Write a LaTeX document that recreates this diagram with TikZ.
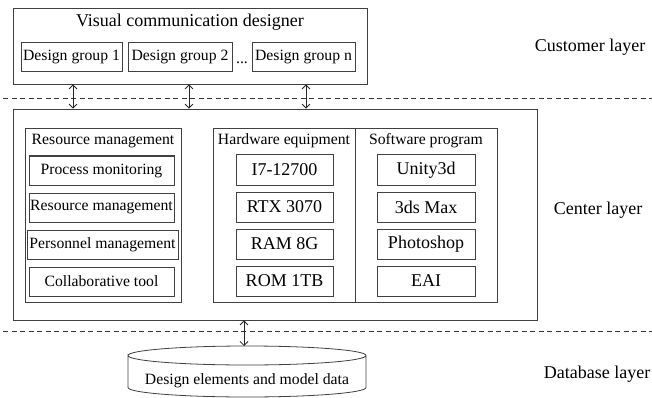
\documentclass[tikz,border=0pt]{standalone}
\usepackage{fontspec}
\setmainfont{Liberation Serif}
\usetikzlibrary{arrows.meta}

\tikzset{
  frame/.style={draw=black!75, line width=0.8pt, inner sep=0pt},
  item/.style={draw=black!75, line width=1pt, inner sep=0pt, minimum height=29pt},
  big/.style={font=\fontsize{18}{20}\selectfont},
  norm/.style={font=\fontsize{15.7}{18}\selectfont},
  link/.style={draw=black!85, line width=0.8pt, {Straight Barb[length=4pt,width=8pt]}-{Straight Barb[length=4pt,width=8pt]}},
  layer/.style={draw=black!80, line width=0.8pt, dash pattern=on 5pt off 3.5pt}
}

\begin{document}
\begin{tikzpicture}[x=1pt,y=-1pt]
\useasboundingbox (0,0) rectangle (652,398);

% customer layer
\node[frame, minimum width=354pt, minimum height=76pt] (cust) at (190,46) {};
\node[big] (custtitle) at (190,22) {Visual communication designer};
\node[item, norm, minimum width=101pt] (g1) at (71.5,57) {Design group 1};
\node[item, norm, minimum width=104pt] (g2) at (180,57) {Design group 2};
\node[norm, anchor=base, inner sep=0pt] (gdots) at (242,63.5) {...};
\node[item, norm, minimum width=103pt] (gn) at (303.5,57) {Design group n};

\draw[layer] (3,98) -- (652,98);

% center layer
\node[frame, minimum width=524pt, minimum height=211pt] (cen) at (275,214.5) {};

\node[frame, minimum width=156pt, minimum height=174pt] (res) at (103,215) {};
\node[norm] (restitle) at (103,141) {Resource management};
\node[item, norm, minimum width=145pt] (r1) at (101.5,170.5) {Process monitoring};
\node[item, norm, minimum width=145pt] (r2) at (101.5,207.5) {Resource management};
\node[item, norm, minimum width=151pt] (r3) at (102.5,244.5) {Personnel management};
\node[item, norm, minimum width=145pt] (r4) at (101.5,281.5) {Collaborative tool};

\node[frame, minimum width=284pt, minimum height=174pt] (hs) at (355,215) {};
\draw[black!75, line width=0.8pt] (hs.north) -- (hs.south);
\node[norm] (hwtitle) at (284,141) {Hardware equipment};
\node[norm] (swtitle) at (426,141) {Software program};

\node[item, big, minimum width=97pt, minimum height=30pt] (h1) at (284.5,170) {I7-12700};
\node[item, big, minimum width=97pt, minimum height=30pt] (h2) at (284.5,207) {RTX 3070};
\node[item, big, minimum width=97pt, minimum height=30pt] (h3) at (284.5,244) {RAM 8G};
\node[item, big, minimum width=97pt, minimum height=30pt] (h4) at (284.5,281) {ROM 1TB};

\node[item, big, minimum width=98pt, minimum height=30pt] (s1) at (426,170) {Unity3d};
\node[item, big, minimum width=98pt, minimum height=30pt] (s2) at (426,207) {3ds Max};
\node[item, big, minimum width=98pt, minimum height=30pt] (s3) at (426,244) {Photoshop};
\node[item, big, minimum width=98pt, minimum height=30pt] (s4) at (426,281) {EAI};

\draw[layer] (3,331) -- (652,331);

% database layer
\draw[black!75, line width=0.8pt] (128,355.5) arc[start angle=180, end angle=540, x radius=119, y radius=9.5]
  -- (128,387.5) arc[start angle=180, end angle=0, x radius=119, y radius=9.5] -- (366,355.5);
\node[norm] (db) at (247,381) {Design elements and model data};
\coordinate (dbtop) at (244,346);

% links
\coordinate (a1) at (73,0);
\coordinate (a2) at (189,0);
\coordinate (a3) at (306,0);
\draw[link] (cust.south -| a1) -- (cen.north -| a1);
\draw[link] (cust.south -| a2) -- (cen.north -| a2);
\draw[link] (cust.south -| a3) -- (cen.north -| a3);
\draw[link] (cen.south -| dbtop) -- (dbtop);

% layer names
\node[big] (lcust) at (590,47) {Customer layer};
\node[big] (lcen) at (598,210) {Center layer};
\node[big] (ldb) at (597,374) {Database layer};
\end{tikzpicture}
\end{document}
